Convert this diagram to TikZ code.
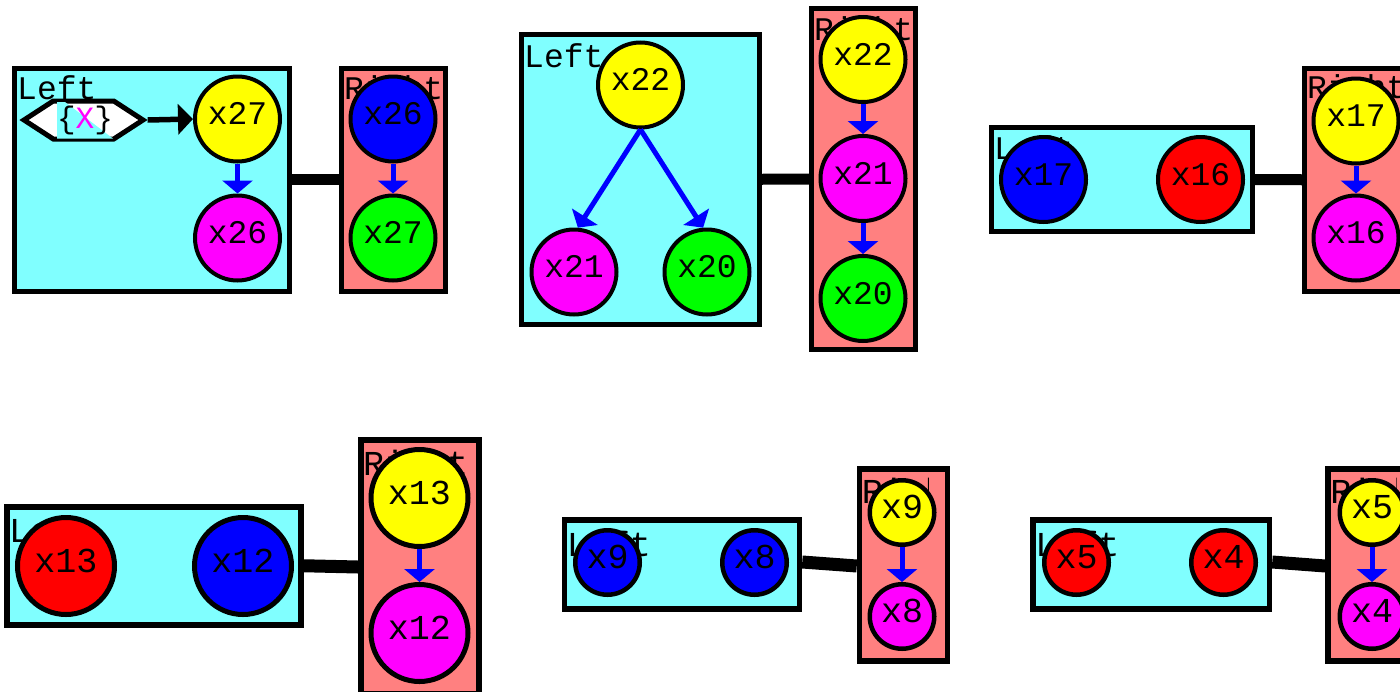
\documentclass[tikz,border=0pt]{standalone}
\usepackage{fontspec}
\newfontfamily\monofont{Liberation Mono}
\usetikzlibrary{arrows.meta,shapes.symbols,calc}

\definecolor{boxcyan}{HTML}{80FFFF}
\definecolor{boxsalmon}{HTML}{FF8080}
\definecolor{vyellow}{HTML}{FFFF00}
\definecolor{vmagenta}{HTML}{FF00FF}
\definecolor{vblue}{HTML}{0000FF}
\definecolor{vgreen}{HTML}{00FF00}
\definecolor{vred}{HTML}{FF0000}

\newcommand{\fsA}{\monofont\fontsize{33}{33}\selectfont}
\newcommand{\fsB}{\monofont\fontsize{35}{35}\selectfont}

\begin{document}
\begin{tikzpicture}[x=1pt,y=-1pt,
  panelbox/.style={rectangle, draw=black, inner sep=0pt, line width=5pt},
  lbox/.style={panelbox, fill=boxcyan},
  rbox/.style={panelbox, fill=boxsalmon},
  tag/.style={inner sep=0pt, anchor=base west, font=\fsA},
  bigtag/.style={tag, font=\fsB},
  var/.style={circle, draw=black, line width=4pt, minimum size=85pt, inner sep=0pt,
    text height=21.8pt, text depth=10pt, font=\fsA},
  bigvar/.style={var, line width=5pt, minimum size=97pt,
    text height=23pt, text depth=11pt, font=\fsB},
  smallvar/.style={var, line width=4.5pt, minimum size=64.5pt,
    text height=23pt, text depth=11pt, font=\fsB},
  link/.style={draw=vblue, line width=5pt, -{Triangle[width=30pt,length=13pt]}},
  bondline/.style={draw=black, line width=11pt},
  bigbond/.style={draw=black, line width=13pt},
]
\clip (0,0) rectangle (1400,691);

% ---------- top row, first pair ----------
\node[lbox, minimum width=275pt, minimum height=222.5pt] (L1) at (152,179.75) {};
\node[rbox, minimum width=104pt, minimum height=222.5pt] (R1) at (393.5,179.75) {};
\draw[bondline] (L1.east) -- (R1.west);
\node[tag] (L1t) at ($(L1.north west)+(5,33)$) {Left};
\node[tag] (R1t) at ($(R1.north west)+(5,33)$) {Right};

\node[signal, signal to=east and west, signal pointer angle=66, draw=black, fill=white,
  line width=5pt, minimum width=119pt, minimum height=38pt, inner sep=0pt] (hex) at (83.5,120) {};
\fill[boxcyan] (57,102) -- (65,102) -- (113,138.5) -- (57,138.5) -- cycle;
\node[inner sep=0pt, anchor=base, font=\monofont\fontsize{31}{31}\selectfont] (hext) at (85,128)
  {\{\textcolor{vmagenta}{X}\}};

\node[var, fill=vyellow]  (a1) at (237.5,119) {x27};
\node[var, fill=vmagenta] (a2) at (237.5,238) {x26};
\node[var, fill=vblue]    (b1) at (393,119)   {x26};
\node[var, fill=vgreen]   (b2) at (393,238)   {x27};
\draw[line width=5.5pt, -{Triangle[width=30pt,length=15pt]}] (hex.east) -- (a1.west);
\draw[link] (a1) -- (a2);
\draw[link] (b1) -- (b2);

% ---------- top row, second pair ----------
\node[lbox, minimum width=238pt, minimum height=289.5pt] (L2) at (640.5,179.25) {};
\node[rbox, minimum width=104pt, minimum height=341pt] (R2) at (863.5,179) {};
\draw[bondline] (L2.east) -- (R2.west);
\node[tag] (L2t) at ($(L2.north west)+(5,35)$) {Left};
\node[tag] (R2t) at ($(R2.north west)+(5,34)$) {Right};

\node[var, fill=vyellow]  (c1) at (640.5,85) {x22};
\node[var, fill=vmagenta] (c2) at (574,272)  {x21};
\node[var, fill=vgreen]   (c3) at (707,272)  {x20};
\draw[link] (c1.south) -- (c2.85);
\draw[link] (c1.south) -- (c3.95);

\node[var, fill=vyellow]  (d1) at (863,59.5)  {x22};
\node[var, fill=vmagenta] (d2) at (863,178.5) {x21};
\node[var, fill=vgreen]   (d3) at (863,298.5) {x20};
\draw[link] (d1) -- (d2);
\draw[link] (d2) -- (d3);

% ---------- top row, third pair ----------
\node[lbox, minimum width=261pt, minimum height=104pt] (L3) at (1122,179.5) {};
\node[rbox, minimum width=104pt, minimum height=222.5pt] (R3) at (1356.5,179.75) {};
\draw[bondline] (L3.east) -- (R3.west);
\node[tag] (L3t) at ($(L3.north west)+(5,34)$) {Left};
\node[tag] (R3t) at ($(R3.north west)+(5,32)$) {Right};

\node[var, fill=vblue]    (e1) at (1043.5,179.5) {x17};
\node[var, fill=vred]     (e2) at (1200.5,179.5) {x16};
\node[var, fill=vyellow]  (f1) at (1356,121)     {x17};
\node[var, fill=vmagenta] (f2) at (1356,238)     {x16};
\draw[link] (f1) -- (f2);

% ---------- bottom row, first pair ----------
\node[lbox, line width=6pt, minimum width=294pt, minimum height=117.5pt] (L4) at (154,565.75) {};
\node[rbox, line width=6pt, minimum width=117.5pt, minimum height=254pt] (R4) at (419.75,567) {};
\draw[bigbond] (L4.east) -- (R4.west);
\node[bigtag] (L4t) at ($(L4.north west)+(5,38)$) {Left};
\node[bigtag] (R4t) at ($(R4.north west)+(5,38)$) {Right};

\node[bigvar, fill=vred]     (g1) at (66,566)    {x13};
\node[bigvar, fill=vblue]    (g2) at (243,566)   {x12};
\node[bigvar, fill=vyellow]  (h1) at (419.5,498) {x13};
\node[bigvar, fill=vmagenta] (h2) at (419.5,633) {x12};
\draw[link] (h1) -- (h2);

% ---------- bottom row, second pair ----------
\node[lbox, line width=5.5pt, minimum width=235pt, minimum height=89pt] (L5) at (682,564.5) {};
\node[rbox, line width=5.5pt, minimum width=88pt, minimum height=192pt] (R5) at (903.5,565) {};
\draw[bigbond] ([yshift=2.5pt]L5.east) -- ([yshift=-1pt]R5.west);
\node[bigtag] (L5t) at ($(L5.north west)+(5,39)$) {Left};
\begin{scope}
  \clip ($(R5.north west)+(5.5,5.5)$) rectangle ($(R5.south east)+(-22,-5.5)$);
  \node[bigtag] (R5t) at ($(R5.north west)+(5,37)$) {Right};
\end{scope}

\node[smallvar, fill=vblue]    (i1) at (607.5,562.5) {x9};
\node[smallvar, fill=vblue]    (i2) at (754.5,562.5) {x8};
\node[smallvar, fill=vyellow]  (j1) at (902,512.5)   {x9};
\node[smallvar, fill=vmagenta] (j2) at (902,616.5)   {x8};
\draw[link] (j1) -- (j2);

% ---------- bottom row, third pair ----------
\node[lbox, line width=5.5pt, minimum width=236.5pt, minimum height=89pt] (L6) at (1151.25,564.5) {};
\node[rbox, line width=5.5pt, minimum width=88pt, minimum height=192pt] (R6) at (1372,565) {};
\draw[bigbond] ([yshift=2.5pt]L6.east) -- ([yshift=-1pt]R6.west);
\node[bigtag] (L6t) at ($(L6.north west)+(5,39)$) {Left};
\begin{scope}
  \clip ($(R6.north west)+(5.5,5.5)$) rectangle ($(R6.south east)+(-22,-5.5)$);
  \node[bigtag] (R6t) at ($(R6.north west)+(5,37)$) {Right};
\end{scope}

\node[smallvar, fill=vred]     (k1) at (1076.5,562.5) {x5};
\node[smallvar, fill=vred]     (k2) at (1223.5,562.5) {x4};
\node[smallvar, fill=vyellow]  (m1) at (1372,512.5)   {x5};
\node[smallvar, fill=vmagenta] (m2) at (1372,616.5)   {x4};
\draw[link] (m1) -- (m2);
\end{tikzpicture}
\end{document}
